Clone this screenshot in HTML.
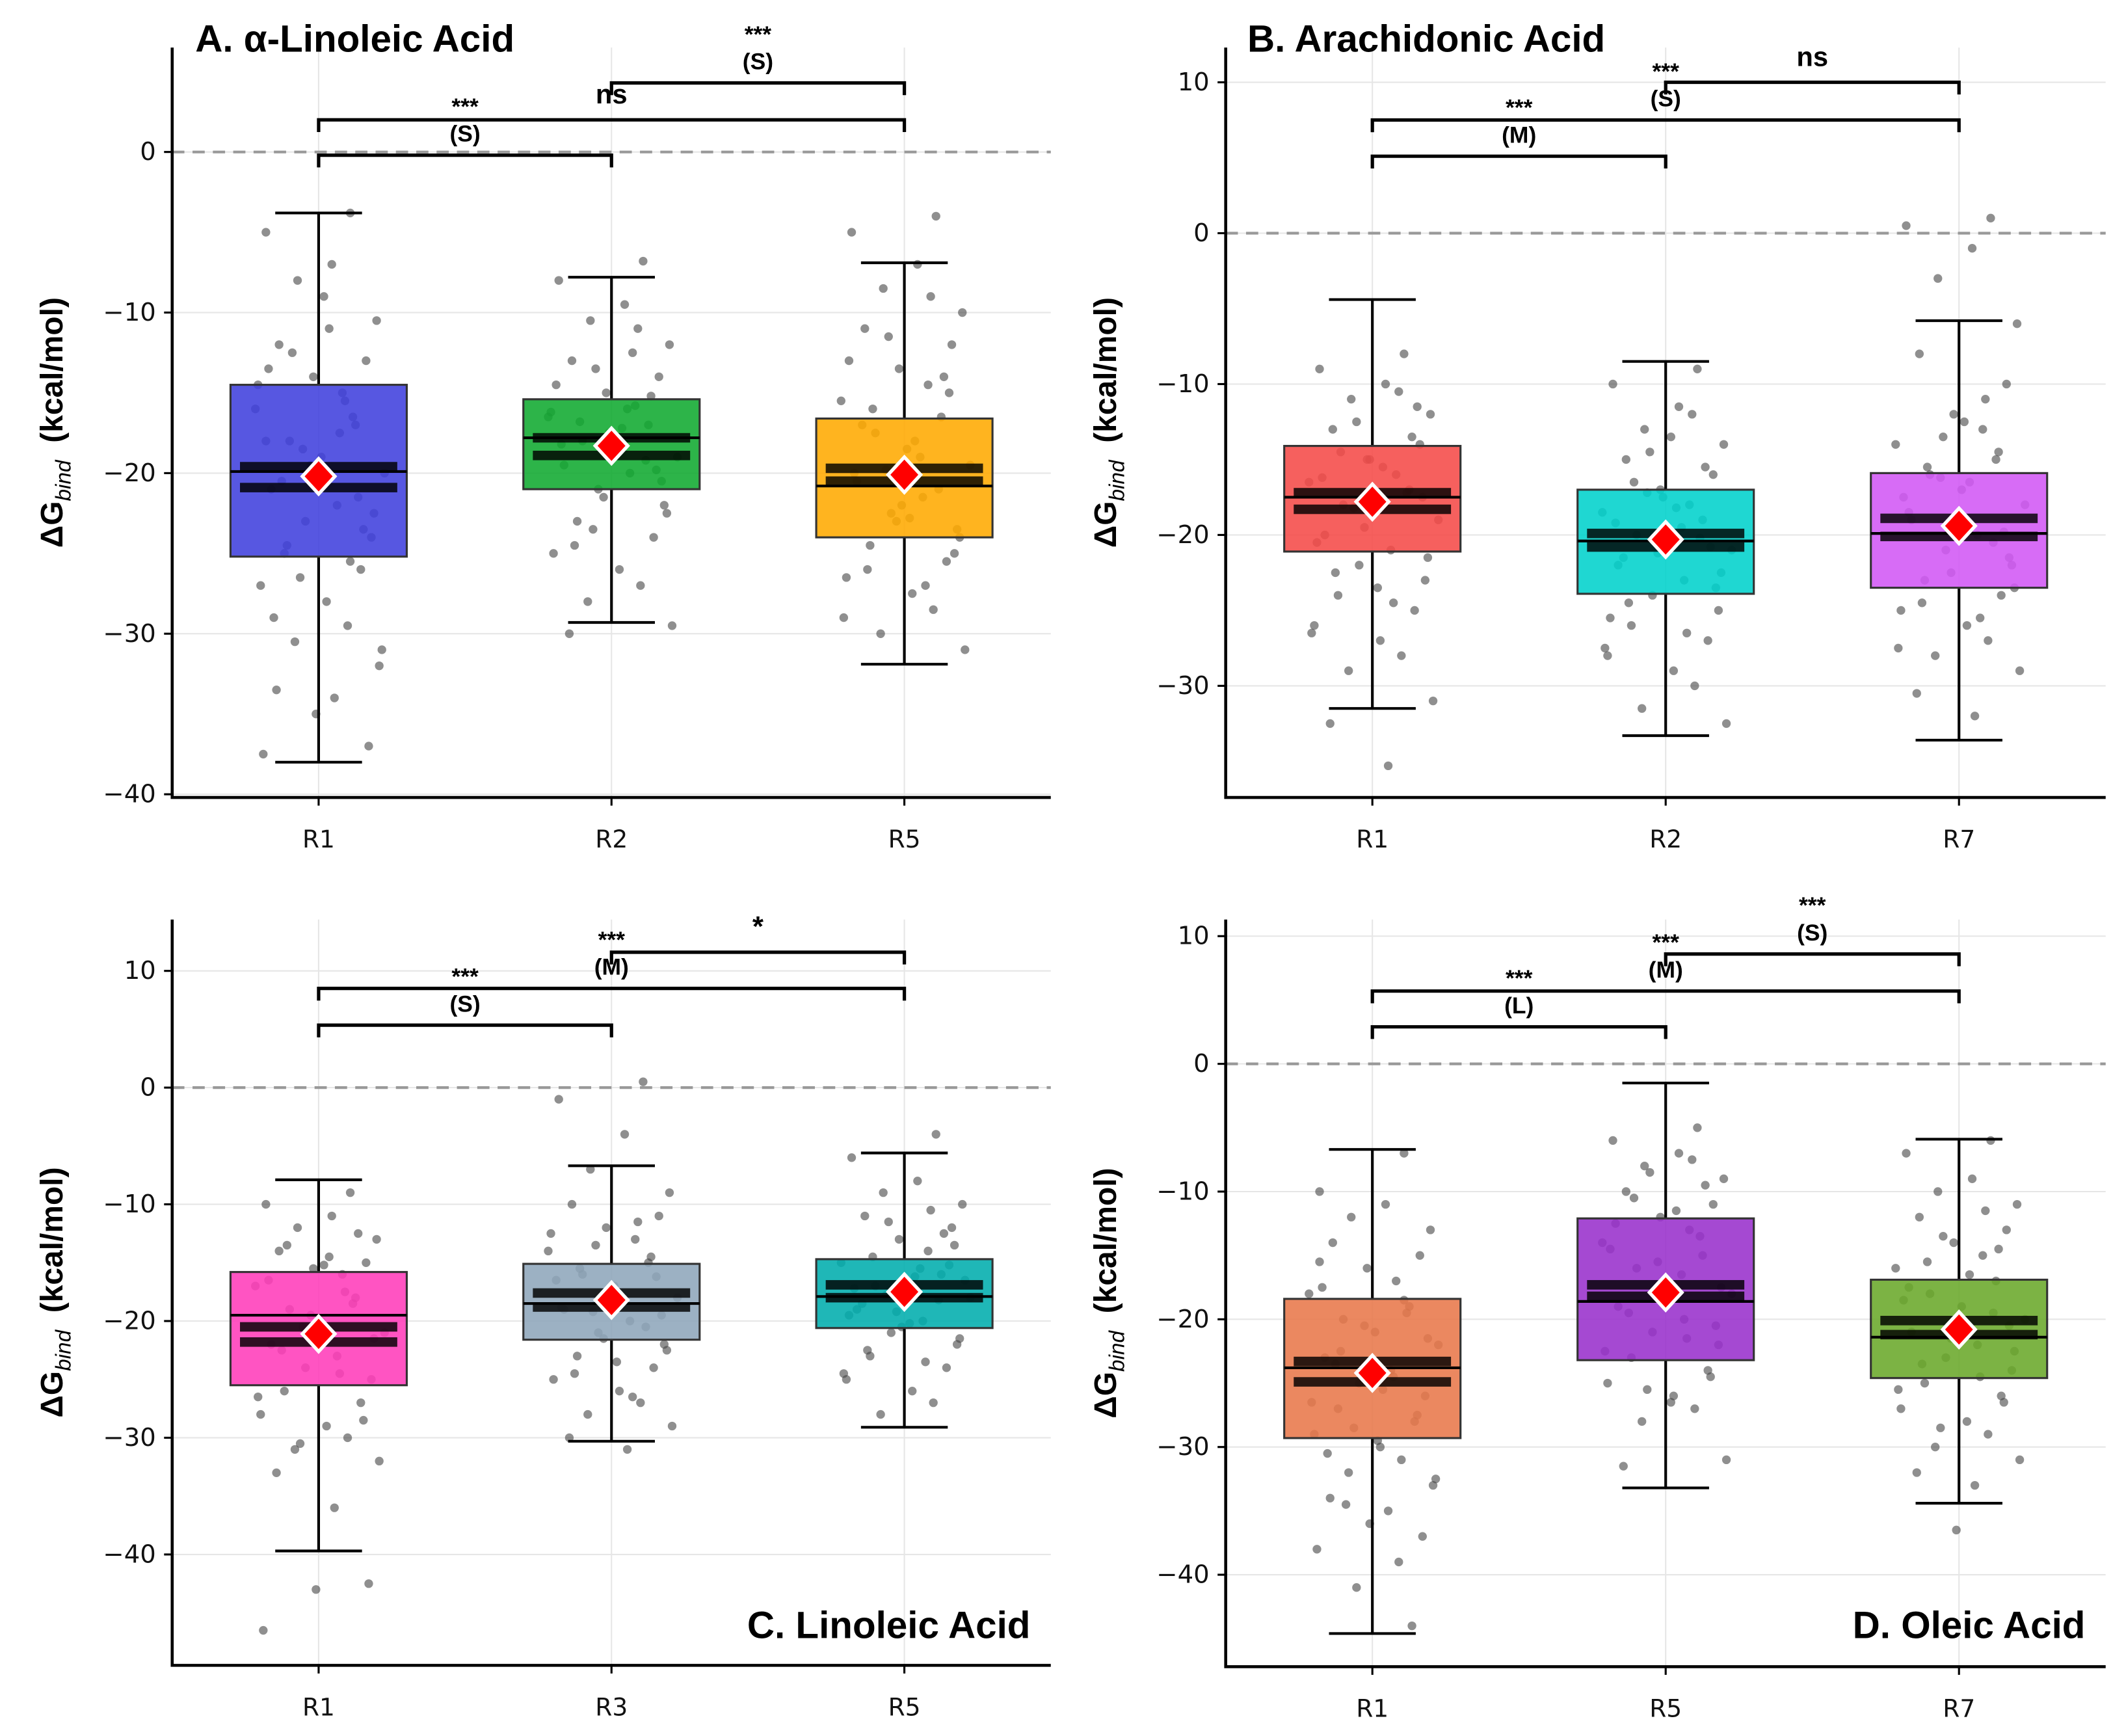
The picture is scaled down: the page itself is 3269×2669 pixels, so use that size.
<!DOCTYPE html>
<html><head><meta charset="utf-8">
<style>
html,body{margin:0;padding:0;background:#fff}
svg{display:block}
text{font-family:"DejaVu Sans","Liberation Sans",sans-serif}
.b{font-family:"Liberation Sans",sans-serif;font-weight:bold}
</style></head>
<body>
<svg id="chart" xmlns="http://www.w3.org/2000/svg" width="3269" height="2669" viewBox="0 0 1568 1280"></svg>
<script>
// ---- data ----
const panelTitles = ["A. α-Linoleic Acid","B. Arachidonic Acid","C. Linoleic Acid","D. Oleic Acid"];
const categoriesA = ["R1","R2","R5"];
const categoriesB = ["R1","R2","R7"];
const categoriesC = ["R1","R3","R5"];
const categoriesD = ["R1","R5","R7"];
const yTicksA = [0,-10,-20,-30,-40];
const yTicksB = [10,0,-10,-20,-30];
const yTicksC = [10,0,-10,-20,-30,-40];
const yTicksD = [10,0,-10,-20,-30,-40];
// [whiskerLow, q1, median, q3, whiskerHigh]
const boxesA = [[-38,-25.2,-19.9,-14.5,-3.8],[-29.3,-21,-17.8,-15.4,-7.8],[-31.9,-24,-20.8,-16.6,-6.9]];
const boxesB = [[-31.5,-21.1,-17.5,-14.1,-4.4],[-33.3,-23.9,-20.4,-17.0,-8.5],[-33.6,-23.5,-19.9,-15.9,-5.8]];
const boxesC = [[-39.7,-25.5,-19.5,-15.8,-7.9],[-30.3,-21.6,-18.5,-15.1,-6.7],[-29.1,-20.6,-17.9,-14.7,-5.6]];
const boxesD = [[-44.6,-29.3,-23.8,-18.4,-6.7],[-33.2,-23.2,-18.6,-12.1,-1.5],[-34.4,-24.6,-21.4,-16.9,-5.9]];
const meansA = [-20.2,-18.3,-20.1];
const meansB = [-17.8,-20.3,-19.4];
const meansC = [-21.1,-18.2,-17.5];
const meansD = [-24.2,-17.9,-20.8];
// CI bands [upper, lower]
const bandsA = [[-19.6,-20.9],[-17.8,-18.9],[-19.7,-20.5]];
const bandsB = [[-17.2,-18.3],[-19.9,-20.8],[-18.9,-20.1]];
const bandsC = [[-20.5,-21.8],[-17.6,-18.8],[-16.9,-18.0]];
const bandsD = [[-23.3,-24.9],[-17.3,-18.2],[-20.1,-21.2]];
// brackets [fromIdx,toIdx,yValue,label1,label2]
const bracketsA = [[0,1,-0.2,"***","(S)"],[0,2,2.0,"ns",""],[1,2,4.3,"***","(S)"]];
const bracketsB = [[0,1,5.1,"***","(M)"],[0,2,7.5,"***","(S)"],[1,2,10,"ns",""]];
const bracketsC = [[0,1,5.35,"***","(S)"],[0,2,8.5,"***","(M)"],[1,2,11.6,"*",""]];
const bracketsD = [[0,1,2.9,"***","(L)"],[0,2,5.7,"***","(M)"],[1,2,8.6,"***","(S)"]];
// scatter samples (estimated)
const pointsA = [
 [-3.8,-5,-7,-8,-10.5,-12,-13,-14,-15,-16,-17,-18,-19,-20,-21,-22,-23,-24,-25,-26,-27,-28,-29.5,-30.5,-32,-33.5,-34,-35,-37,-37.5,-15.5,-18.5,-21.5,-24.5,-11,-13.5,-16.5,-19.5,-22.5,-20.5,-17.5,-14.5,-23.5,-26.5,-9,-29,-31,-12.5,-25.5,-18],
 [-6.8,-8,-9.5,-10.5,-12,-13,-14,-15,-15.8,-16.5,-17,-18,-18.5,-19,-19.5,-20,-21,-22,-23,-24,-25,-26,-27,-28,-29.5,-30,-16,-17.5,-20.5,-14.5,-11,-13.5,-15.2,-16.8,-17.2,-18.2,-19.2,-21.5,-22.5,-24.5,-12.5,-16.2,-19.8,-23.5,-17.8],
 [-4,-5,-7,-8.5,-10,-11,-12,-13.5,-14.5,-15.5,-16.5,-17.5,-18.5,-19.5,-20.5,-21.5,-22.5,-23.5,-24.5,-25.5,-26.5,-27.5,-28.5,-30,-31,-17,-19,-22,-25,-13,-9,-11.5,-14,-16,-18,-20,-21,-23,-24,-26,-27,-29,-15,-19.8,-22.8]];
const pointsB = [
 [-8,-9,-10,-11,-12,-13,-14,-15,-16,-16.5,-17,-18,-18.5,-19,-20,-21,-22,-23,-24,-25,-26,-27,-28,-29,-31,-32.5,-35.3,-15,-17.5,-20.5,-10.5,-12.5,-13.5,-14.5,-15.5,-16.2,-17.2,-19.5,-21.5,-22.5,-24.5,-26.5,-11.5,-18.2,-23.5],
 [-9,-10,-11.5,-13,-14,-15,-16,-17,-18,-18.5,-19,-20,-20.5,-21,-22,-23,-24,-25,-26,-27,-28,-29,-30,-31.5,-32.5,-21.5,-19.5,-17.5,-23.5,-25.5,-12,-14.5,-15.5,-16.5,-18.2,-19.2,-20.2,-21.2,-22.5,-24.5,-26.5,-27.5,-20.8,-17.2,-13.5],
 [1,0.5,-1,-3,-6,-8,-10,-12,-13,-14,-15,-16,-17,-18,-19,-20,-21,-22,-23,-24,-25,-26,-27,-28,-29,-30.5,-32,-19.5,-21.5,-17.5,-11,-13.5,-14.5,-15.5,-16.5,-18.5,-20.5,-22.5,-23.5,-24.5,-25.5,-27.5,-19.8,-16.2,-12.5]];
const pointsC = [
 [-9,-10,-11,-12,-13,-14,-15,-15.5,-16,-17,-18,-19,-20,-21,-22,-23,-24,-25,-26,-27,-28,-29,-30,-31,-32,-33,-36,-43,-42.5,-46.5,-17.5,-20.5,-12.5,-13.5,-14.5,-16.5,-18.5,-19.5,-21.5,-22.5,-24.5,-26.5,-28.5,-30.5,-15.2],
 [0.5,-1,-4,-7,-9,-10,-11,-12,-13,-14,-15,-16,-17,-18,-19,-20,-21,-22,-23,-24,-25,-26,-27,-28,-29,-30,-31,-17.5,-19.5,-16.5,-11.5,-13.5,-14.5,-15.5,-18.2,-18.8,-20.5,-21.5,-22.5,-24.5,-26.5,-12.5,-16.2,-19.2,-23.5],
 [-4,-6,-8,-9,-10,-11,-12,-13,-14,-15,-16,-17,-17.5,-18,-19,-20,-21,-22,-23,-24,-25,-26,-27,-28,-16.5,-18.5,-15.5,-20.5,-13.5,-19.5,-10.5,-11.5,-12.5,-14.5,-16.2,-17.2,-18.2,-19.2,-21.5,-22.5,-23.5,-24.5,-15.2,-17.8,-20.2]];
const pointsD = [
 [-7,-10,-11,-12,-13,-14,-15,-16,-17,-18,-19,-20,-21,-22,-23,-24,-25,-26,-27,-28,-29,-30,-31,-32,-33,-34,-35,-36,-37,-38,-39,-41,-44,-22.5,-25.5,-17.5,-19.5,-20.5,-21.5,-23.5,-24.5,-26.5,-27.5,-28.5,-29.5,-30.5,-32.5,-34.5,-18.5,-15.5],
 [-5,-6,-7,-8,-9,-10,-11,-12,-13,-14,-15,-16,-17,-18,-19,-20,-21,-22,-23,-24,-25,-26,-27,-28,-31,-31.5,-16.5,-18.5,-20.5,-14.5,-7.5,-8.5,-9.5,-10.5,-11.5,-12.5,-13.5,-15.5,-17.5,-19.5,-21.5,-22.5,-24.5,-25.5,-26.5],
 [-6,-7,-9,-10,-11,-12,-13,-14,-15,-16,-17,-18,-19,-20,-21,-22,-23,-24,-25,-26,-27,-28,-29,-30,-31,-32,-33,-36.5,-20.5,-18.5,-11.5,-13.5,-14.5,-15.5,-16.5,-17.5,-19.5,-21.5,-22.5,-23.5,-24.5,-25.5,-26.5,-28.5,-20.2]];
const jitterPattern = [0.12,-0.2,0.05,-0.08,0.22,-0.15,0.18,-0.02,0.09,-0.24,0.14,-0.11,0.01,0.25,-0.18,0.07,-0.05,0.2,-0.13,0.16,-0.22,0.03,0.11,-0.09,0.23,-0.16,0.06,-0.01,0.19,-0.21,0.1,-0.06,0.15,-0.12,0.04,-0.19,0.13,-0.03,0.21,-0.14,0.08,-0.23,0.17,-0.07,0.02,-0.17,0.24,-0.1];
const colorsA = ["#4040dd","#10aa30","#ffaa00"];
const colorsB = ["#f54a48","#00d2cc","#d258f5"];
const colorsC = ["#ff3cba","#8ea6bb","#00adad"];
const colorsD = ["#e8784a","#9830cc","#6aa82a"];

const panels = [
 {L:127,R:775,T:35,B:588,ymin:-40.2,ymax:6.5,cats:categoriesA,ticks:yTicksA,boxes:boxesA,means:meansA,bands:bandsA,br:bracketsA,pts:pointsA,col:colorsA,ylab:38,title:[144,38,"start"]},
 {L:904,R:1553,T:35,B:588,ymin:-37.4,ymax:12.3,cats:categoriesB,ticks:yTicksB,boxes:boxesB,means:meansB,bands:bandsB,br:bracketsB,pts:pointsB,col:colorsB,ylab:815,title:[920,38,"start"]},
 {L:127,R:775,T:678,B:1228,ymin:-49.5,ymax:14.4,cats:categoriesC,ticks:yTicksC,boxes:boxesC,means:meansC,bands:bandsC,br:bracketsC,pts:pointsC,col:colorsC,ylab:38,title:[760,1208,"end"]},
 {L:904,R:1553,T:678,B:1229,ymin:-47.2,ymax:11.3,cats:categoriesD,ticks:yTicksD,boxes:boxesD,means:meansD,bands:bandsD,br:bracketsD,pts:pointsD,col:colorsD,ylab:815,title:[1538,1208,"end"]}
];
const NS="http://www.w3.org/2000/svg";
const svg=document.getElementById('chart');
function mk(tag,attrs,parent){const e=document.createElementNS(NS,tag);for(const k in attrs)e.setAttribute(k,attrs[k]);(parent||svg).appendChild(e);return e;}
panels.forEach((p,pi)=>{
 const g=mk('g',{});
 
 
 const catW=(p.R-p.L)/3;
 const xs=i=>p.L+catW*(i+0.5);
 const ys=v=>p.B-(v-p.ymin)/(p.ymax-p.ymin)*(p.B-p.T);
 p.ticks.forEach(t=>{const l=mk('line',{x1:p.L,x2:p.R,y1:ys(t),y2:ys(t),stroke:'#e6e6e6','stroke-width':1},g);
  });
 p.cats.forEach((c,i)=>{const l=mk('line',{x1:xs(i),x2:xs(i),y1:p.T,y2:p.B,stroke:'#e6e6e6','stroke-width':1},g);
  });
 const z=mk('line',{x1:p.L,x2:p.R,y1:ys(0),y2:ys(0),stroke:'#999','stroke-width':2,'stroke-dasharray':'9,6'},g);
 
 p.cats.forEach((c,i)=>{
  const b=p.boxes[i],x=xs(i),hw=65;
  p.pts[i].forEach((v,k)=>{const d=mk('circle',{cx:x+jitterPattern[k%jitterPattern.length]*catW*0.9,cy:ys(v),r:3.2,fill:'#444','fill-opacity':0.6},g);
   });
  const w=mk('path',{d:`M${x},${ys(b[0])}V${ys(b[1])}M${x},${ys(b[3])}V${ys(b[4])}M${x-32},${ys(b[0])}H${x+32}M${x-32},${ys(b[4])}H${x+32}`,stroke:'#000','stroke-width':2,fill:'none'},g);
  
  const r=mk('rect',{x:x-hw,y:ys(b[3]),width:2*hw,height:ys(b[1])-ys(b[3]),fill:p.col[i],'fill-opacity':0.88,stroke:'#333','stroke-width':1.5},g);
  
  p.bands[i].forEach(v=>{const bb=mk('rect',{x:x-58,y:ys(v)-3.5,width:116,height:7,fill:'#000','fill-opacity':0.82},g);
   });
  const m=mk('line',{x1:x-hw,x2:x+hw,y1:ys(b[2]),y2:ys(b[2]),stroke:'#000','stroke-width':2},g);
  
  const my=ys(p.means[i]);
  const dm=mk('path',{d:`M${x},${my-13}L${x+12},${my}L${x},${my+13}L${x-12},${my}Z`,fill:'#f00',stroke:'#fff','stroke-width':2.5},g);
  
  const tk=mk('line',{x1:x,x2:x,y1:p.B,y2:p.B+6,stroke:'#000','stroke-width':1.5},g);
  
  const tl=mk('text',{x:x,y:p.B+37,'text-anchor':'middle','font-size':18,fill:'#111'},g);tl.textContent=c;
  
 });
 p.br.forEach(br=>{
  const x1=xs(br[0]),x2=xs(br[1]),y=ys(br[2]);
  const l=mk('path',{d:`M${x1},${y+9}V${y}H${x2}V${y+9}`,stroke:'#000','stroke-width':2.5,fill:'none'},g);
  
  const cx=(x1+x2)/2;
  if(br[4]){
   const t1=mk('text',{x:cx,y:y-30,'text-anchor':'middle','font-size':17,'class':'b'},g);t1.textContent=br[3];
   
   const t2=mk('text',{x:cx,y:y-10,'text-anchor':'middle','font-size':17,'class':'b'},g);t2.textContent=br[4];
   
  } else {
   const t1=mk('text',{x:cx,y:y-12,'text-anchor':'middle','font-size':br[3]=='*'?21:20,'class':'b'},g);t1.textContent=br[3];
   
  }
 });
 const ax=mk('path',{d:`M${p.L},${p.T}V${p.B}H${p.R}`,stroke:'#000','stroke-width':2.2,fill:'none'},g);
 
 p.ticks.forEach(t=>{
  const tk=mk('line',{x1:p.L-6,x2:p.L,y1:ys(t),y2:ys(t),stroke:'#000','stroke-width':1.5},g);
  
  const tl=mk('text',{x:p.L-12,y:ys(t)+6,'text-anchor':'end','font-size':18.5,fill:'#111'},g);
  tl.textContent=t<0?'\u2212'+Math.abs(t):String(t);
  
 });
 const yl=mk('text',{x:0,y:0,'text-anchor':'middle','font-size':23,'class':'b',transform:`translate(${p.ylab+8},${(p.T+p.B)/2}) rotate(-90)`},g);
 yl.innerHTML='ΔG<tspan font-size="16" font-style="italic" font-weight="normal" dy="6">bind</tspan><tspan dy="-6" xml:space="preserve">  (kcal/mol)</tspan>';
 
 const tt=mk('text',{x:p.title[0],y:p.title[1],'text-anchor':p.title[2],'font-size':28,'class':'b'},g);
 tt.textContent=panelTitles[pi];
 
});
</script>
</body></html>
